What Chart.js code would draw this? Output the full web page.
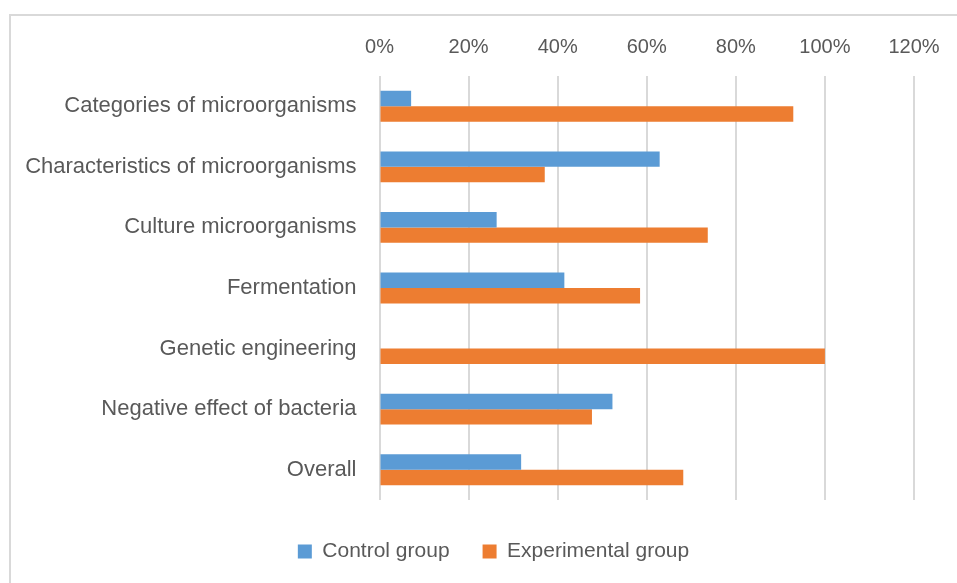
<!DOCTYPE html>
<html>
<head>
<meta charset="utf-8">
<script src="https://cdn.jsdelivr.net/npm/chart.js@4"></script>
<style>
  html, body { margin: 0; padding: 0; background: #fff; overflow: hidden; }
  #frame { position: absolute; left: 9px; top: 14px; width: 1000px; height: 1000px; border: 2px solid #d9d9d9; box-sizing: border-box; }
  #wrap { position: absolute; left: 0; top: 0; width: 957px; height: 583px; }
</style>
</head>
<body>
<div id="frame"></div>
<div id="wrap"><canvas id="myChart" width="957" height="583"></canvas></div>
<script>
// chart data
var topics = [
    'Categories of microorganisms',
    'Characteristics of microorganisms',
    'Culture microorganisms',
    'Fermentation',
    'Genetic engineering',
    'Negative effect of bacteria',
    'Overall'
];
var controlGroup = [7.1, 62.9, 26.3, 41.5, 0, 52.3, 31.8];
var experimentalGroup = [92.9, 37.1, 73.7, 58.5, 100, 47.7, 68.2];
var seriesNames = ['Control group', 'Experimental group'];

var textColor = '#595959';
var fontFamily = '"Liberation Sans", Arial, sans-serif';

// legend sits a bit right of the canvas centre in the original
var legendShift = {
    id: 'legendShift',
    afterLayout: function (chart) {
        if (!chart.legend) return;
        chart.legend.left += 32;
        chart.legend.right += 32;
    }
};

var ctx = document.getElementById('myChart').getContext('2d');
var myChart = new Chart(ctx, {
    type: 'bar',
    data: {
        labels: topics,
        datasets: [
            { label: seriesNames[0], data: controlGroup, backgroundColor: '#5b9bd5' },
            { label: seriesNames[1], data: experimentalGroup, backgroundColor: '#ed7d31' }
        ]
    },
    options: {
        indexAxis: 'y',
        responsive: false,
        animation: false,
        categoryPercentage: 0.51,
        barPercentage: 1,
        layout: { padding: { left: 9, right: 43, top: 0, bottom: 11 } },
        scales: {
            x: {
                position: 'top',
                min: 0, max: 120,
                ticks: {
                    stepSize: 20,
                    padding: 17,
                    color: textColor,
                    font: { family: fontFamily, size: 20 },
                    callback: function (v) { return v + '%'; }
                },
                grid: { color: '#d9d9d9', lineWidth: 2, drawTicks: false },
                border: { display: false },
                afterFit: function (scale) { scale.height = 76; }
            },
            y: {
                ticks: {
                    padding: 23,
                    color: textColor,
                    font: { family: fontFamily, size: 22 }
                },
                grid: { display: false, drawTicks: false },
                border: { display: false },
                afterFit: function (scale) { scale.width = 379.5 - 9; }
            }
        },
        plugins: {
            tooltip: { enabled: false },
            legend: {
                position: 'bottom',
                title: { display: true, text: '', font: { size: 4, lineHeight: 1 }, padding: { top: 4, bottom: 0 } },
                labels: {
                    boxWidth: 14,
                    boxHeight: 14,
                    padding: 33,
                    color: textColor,
                    font: { family: fontFamily, size: 21 }
                }
            }
        }
    },
    plugins: [legendShift]
});
</script>
</body>
</html>
